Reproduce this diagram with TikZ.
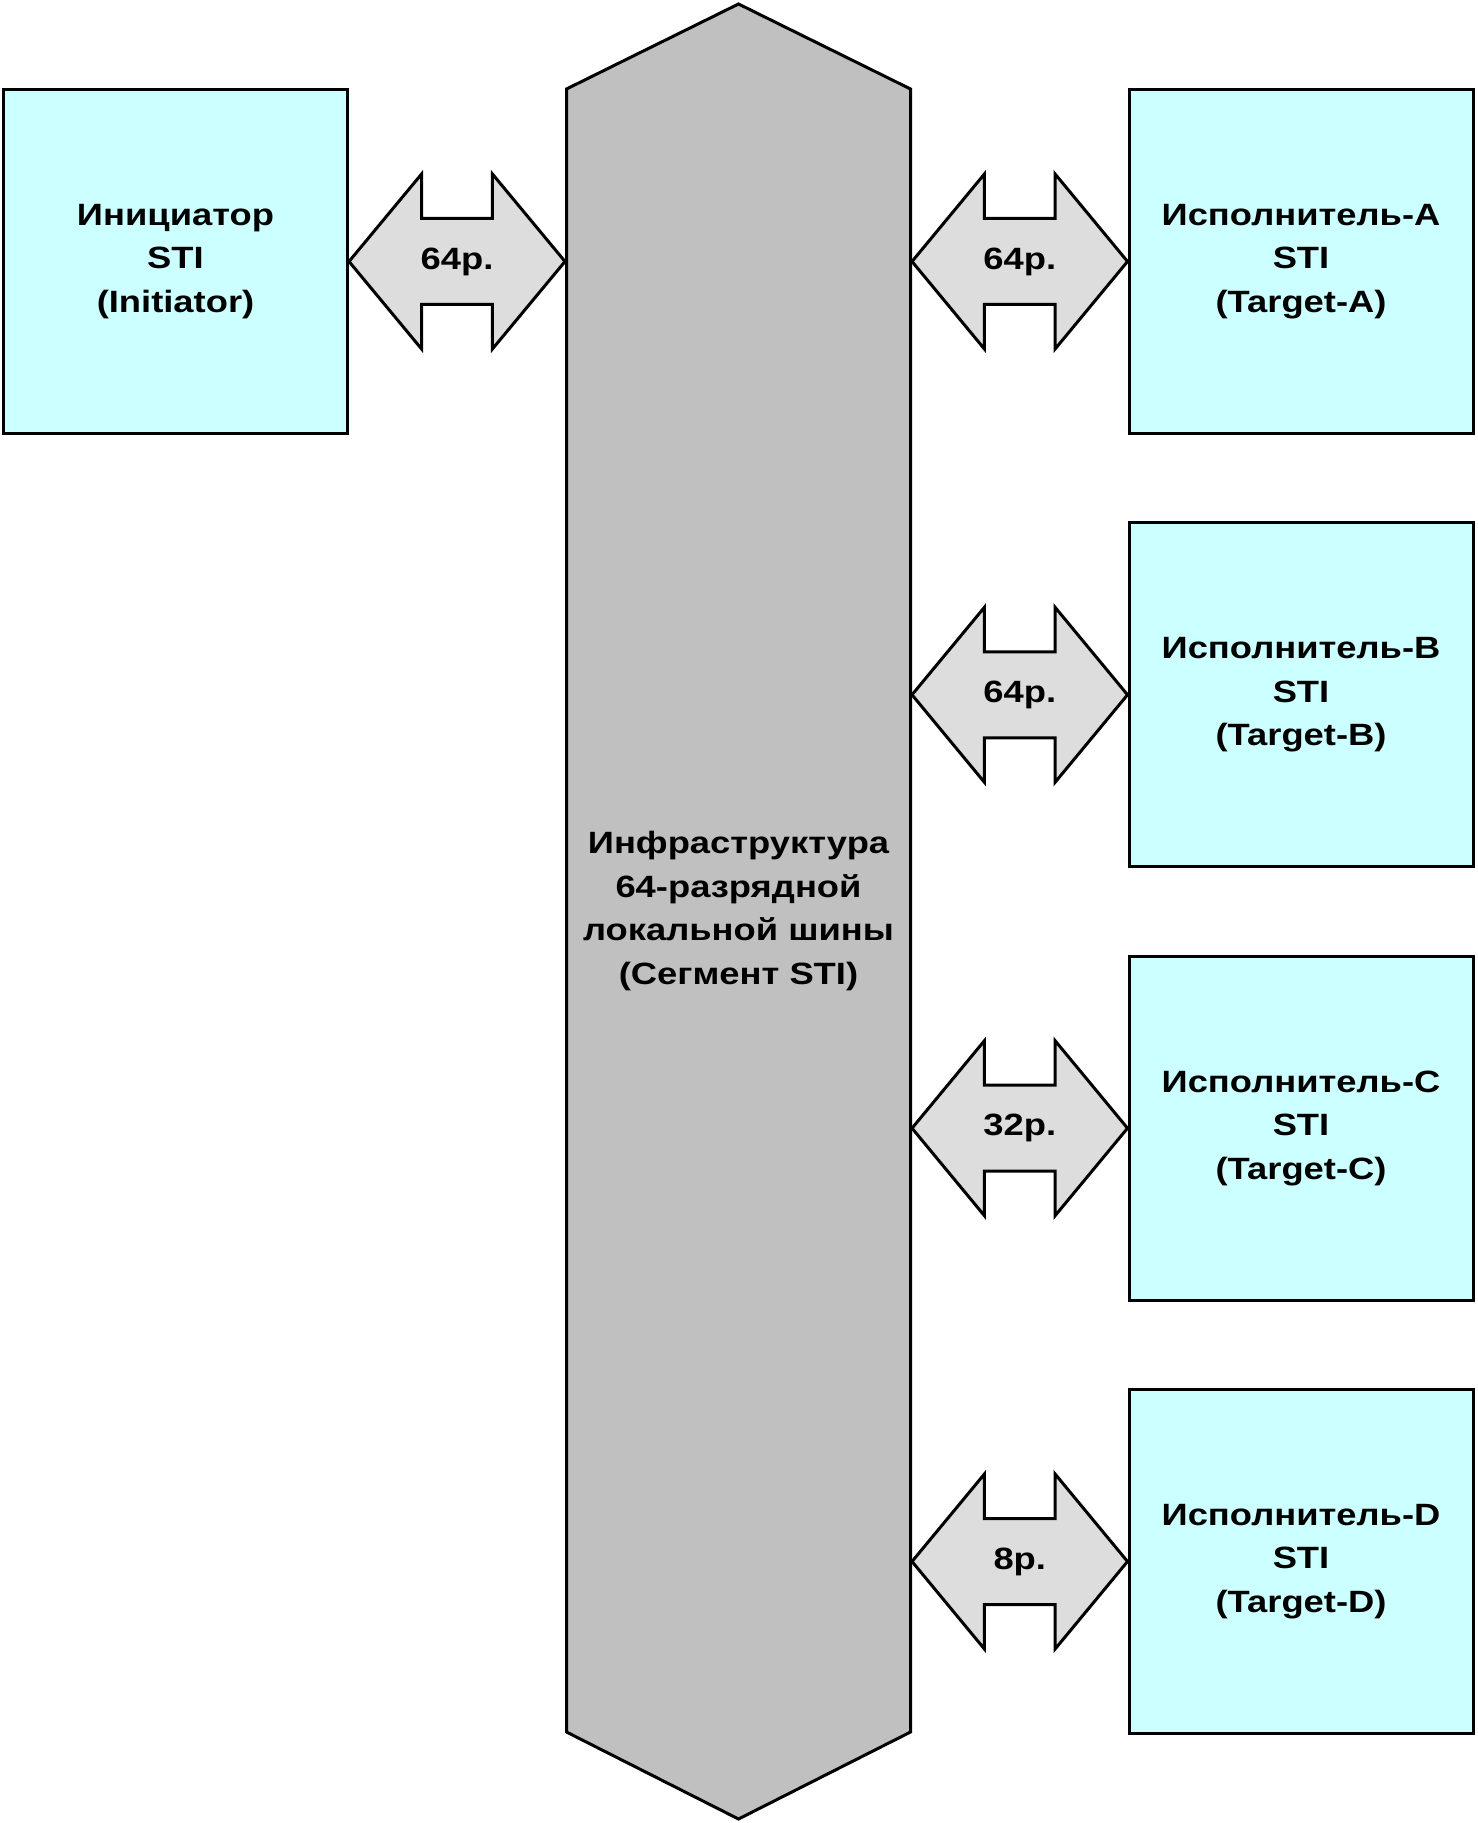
\documentclass[tikz,border=0pt]{standalone}
\usepackage{fontspec}
\setmainfont{Liberation Sans}[FakeStretch=1.18]
\usetikzlibrary{calc}
\definecolor{boxfill}{HTML}{CCFFFF}
\definecolor{busfill}{HTML}{C0C0C0}
\definecolor{arrfill}{HTML}{DDDDDD}
\newcommand{\widearrow}[4]{%
 \draw[busarr] (#1) -- ($(#1)!0.336!(#2)+(0,-87.5)$) -- ($(#1)!0.336!(#2)+(0,-43)$) -- ($(#1)!0.664!(#2)+(0,-43)$) -- ($(#1)!0.664!(#2)+(0,-87.5)$) -- (#2) -- ($(#1)!0.664!(#2)+(0,87.5)$) -- ($(#1)!0.664!(#2)+(0,43)$) -- ($(#1)!0.336!(#2)+(0,43)$) -- ($(#1)!0.336!(#2)+(0,87.5)$) -- cycle;
 \node[lbl] (#3) at ($(#1)!0.5!(#2)$) {#4};}
\begin{document}
\begin{tikzpicture}[x=0.5pt,y=-0.5pt,
 unit/.style={draw=black, line width=1.5pt, fill=boxfill, minimum width=172pt, minimum height=172pt, align=center, font=\fontsize{15.4}{21.7}\selectfont\bfseries, inner sep=0pt},
 busarr/.style={draw=black, line width=1.5pt, fill=arrfill, line join=miter},
 busshape/.style={draw=black, line width=1.5pt, fill=busfill, line join=miter},
 lbl/.style={font=\fontsize{15.4}{21.7}\selectfont\bfseries, inner sep=0pt},
 buslbl/.style={font=\fontsize{15.4}{21.8}\selectfont\bfseries, inner sep=0pt, align=center}
]
\useasboundingbox (0,0) rectangle (1477,1823);
% bus
\draw[busshape] (738.5,4) -- (910.5,89) -- (910.5,1732) -- (738.5,1819) -- (566.5,1732) -- (566.5,89) -- cycle;
\node[buslbl] (bus) at (738.5,911) {Инфраструктура\\64-разрядной\\локальной шины\\(Сегмент STI)};
\coordinate (busL) at (565,911);
\coordinate (busR) at (912,911);
% units
\node[unit] (ini) at (175.5,261.5) {Инициатор\\STI\\(Initiator)};
\node[unit] (tA) at (1301,261.5) {Исполнитель-A\\STI\\(Target-A)};
\node[unit] (tB) at (1301,694.8) {Исполнитель-B\\STI\\(Target-B)};
\node[unit] (tC) at (1301,1128.2) {Исполнитель-C\\STI\\(Target-C)};
\node[unit] (tD) at (1301,1561.5) {Исполнитель-D\\STI\\(Target-D)};
% connection points
\coordinate (bI) at (busL |- ini.east);
\coordinate (bA) at (busR |- tA.west);
\coordinate (bB) at (busR |- tB.west);
\coordinate (bC) at (busR |- tC.west);
\coordinate (bD) at (busR |- tD.west);
% arrows
\widearrow{ini.east}{bI}{lI}{64р.}
\widearrow{bA}{tA.west}{lA}{64р.}
\widearrow{bB}{tB.west}{lB}{64р.}
\widearrow{bC}{tC.west}{lC}{32р.}
\widearrow{bD}{tD.west}{lD}{8р.}
\end{tikzpicture}
\end{document}
